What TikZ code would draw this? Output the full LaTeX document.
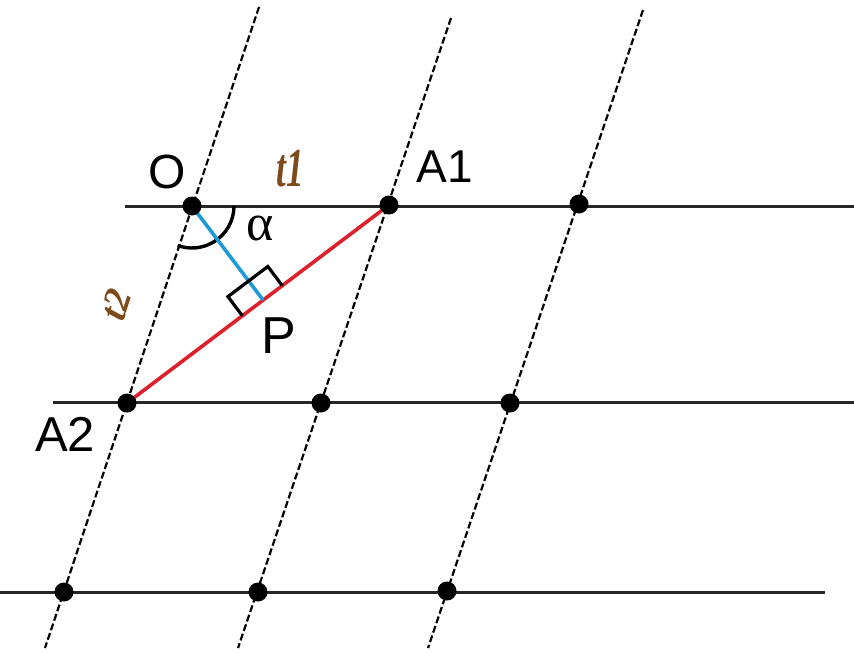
\documentclass[tikz,border=0pt]{standalone}
\usepackage{fontspec}
\setmainfont{Liberation Sans}
\newfontfamily\tms{Liberation Serif}
\usetikzlibrary{calc}
\definecolor{redline}{RGB}{222,32,44}
\definecolor{blueline}{RGB}{30,155,215}
\definecolor{tlabel}{RGB}{125,75,25}
\tikzset{
  gridline/.style={line width=3pt, draw=black!85},
  slantline/.style={line width=2.2pt, draw=black, dash pattern=on 7pt off 3pt},
  latticedot/.style={fill=black},
  redseg/.style={line width=3.6pt, draw=redline},
  blueseg/.style={line width=3.6pt, draw=blueline},
  markstyle/.style={line width=3.2pt, draw=black, line join=miter},
  lbl/.style={inner sep=0pt, text=black},
}
\begin{document}
\begin{tikzpicture}[x=1pt, y=-1pt]
\useasboundingbox (0,0) rectangle (854,653);
% lattice points
\coordinate (O) at (192,206);
\coordinate (A1) at (389,205);
\coordinate (B13) at (579,204);
\coordinate (A2) at (127,403);
\coordinate (B22) at (321,403);
\coordinate (B23) at (510,403);
\coordinate (B31) at (64,592);
\coordinate (B32) at (258,592);
\coordinate (B33) at (447,591);
% line ends
\coordinate (H1l) at (125,206); \coordinate (H1r) at (854,206);
\coordinate (H2l) at (53,402);  \coordinate (H2r) at (854,402);
\coordinate (H3l) at (0,592);   \coordinate (H3r) at (825,592);
\coordinate (S1t) at (259,7);   \coordinate (S1b) at (45,648);
\coordinate (S2t) at (451,18);  \coordinate (S2b) at (238,648);
\coordinate (S3t) at (643,10);  \coordinate (S3b) at (428,648);
% horizontal lines
\draw[gridline] (H1l) -- (H1r);
\draw[gridline] (H2l) -- (H2r);
\draw[gridline] (H3l) -- (H3r);
% slanted dashed lines
\draw[slantline] (S1t) -- (S1b);
\draw[slantline] (S2t) -- (S2b);
\draw[slantline] (S3t) -- (S3b);
% foot of perpendicular
\coordinate (P) at ($(A1)!(O)!(A2)$);
% angle arc
\draw[line width=3.4pt] ($(O)+(42,0)$) arc[start angle=0, end angle=110, radius=42];
% segments
\draw[redseg] (A1) -- (A2);
\draw[blueseg] (O) -- (P);
% right angle mark
\coordinate (Pa) at ($(P)!26pt!(A2)$);
\coordinate (Pb) at ($(P)!24pt!(A1)$);
\coordinate (Pc) at ($(Pa)!24pt!90:(P)$);
\coordinate (Pd) at ($(Pb)!24pt!-90:(P)$);
\draw[markstyle] (Pa) -- (Pc) -- (Pd) -- (Pb);
% dots
\foreach \p in {O,A1,B13,A2,B22,B23,B31,B32,B33}
  \fill[latticedot] (\p) circle[radius=9.5pt];
% labels
\node[lbl, font=\fontsize{48}{48}\selectfont] (lO) at (167,172) {O};
\node[lbl, font=\fontsize{46}{46}\selectfont] (lA1) at (445,167) {A1};
\node[lbl, font=\fontsize{49}{49}\selectfont] (lA2) at (65,434) {A2};
\node[lbl, font=\fontsize{52}{52}\selectfont] (lP) at (279,336) {P};
\node[lbl, font=\tms\fontsize{52}{52}\selectfont] (lalpha) at (260,228) {α};
\node[lbl, text=tlabel, font=\tms\itshape\bfseries\fontsize{44}{44}\selectfont] (lt1) at (290,169) {\scalebox{0.8}[1.25]{t1}};
\node[lbl, text=tlabel, font=\tms\itshape\bfseries\fontsize{38}{38}\selectfont, rotate=72] (lt2) at (116,305) {t2};
\end{tikzpicture}
\end{document}
